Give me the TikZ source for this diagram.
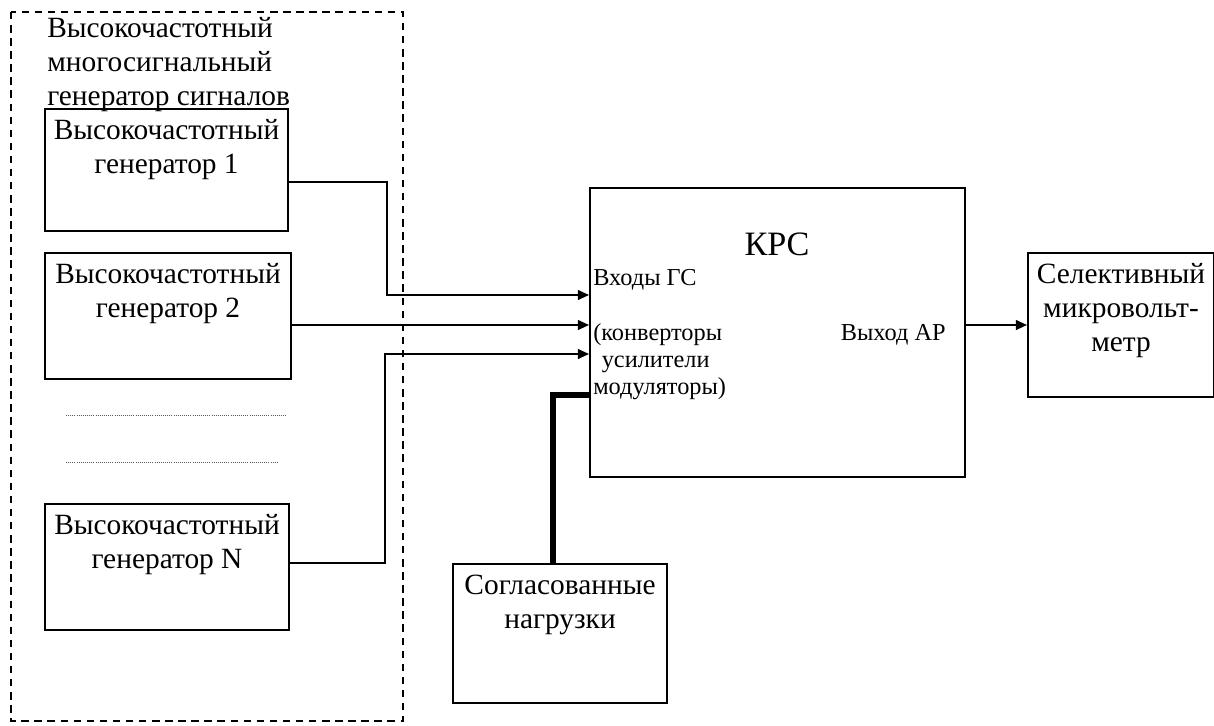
\documentclass[tikz,border=0pt]{standalone}
\usepackage{fontspec}
\setmainfont{Liberation Serif}
\usetikzlibrary{arrows.meta}
\definecolor{dotgray}{rgb}{0.35,0.35,0.35}

\tikzset{
  txt/.style={font=\fontsize{20.9}{24.2}\selectfont},
  small/.style={font=\fontsize{17.3}{19.4}\selectfont},
  big/.style={font=\fontsize{24.3}{27}\selectfont},
  block/.style={draw, line width=1.4pt, inner sep=0pt, anchor=north west},
  inside/.style={txt, align=center, inner sep=0pt, anchor=north, yshift=-0.27cm},
  wire/.style={line width=1.4pt},
  arrow/.style={wire, -{Triangle[length=8pt,width=7pt]}},
  heavy/.style={line width=3.8pt},
  frame/.style={line width=0.85pt, dash pattern=on 5.3pt off 4pt},
  dots/.style={dotgray, line width=0.6pt, dash pattern=on 0.6pt off 0.9pt}
}

\begin{document}
\begin{tikzpicture}[x=0.025cm, y=-0.025cm]

  \useasboundingbox (0,0) rectangle (1214,725);

  % generator group
  \draw[frame] (11,12) rectangle (403,721);
  \node[txt, align=left, inner sep=0pt, anchor=north west] (title) at (47,17)
    {Высокочастотный\\многосигнальный\\генератор сигналов};

  \node[block, minimum width=6.075cm, minimum height=3.05cm,
    label={[inside]north:Высокочастотный\\генератор 1}] (g1) at (44,108) {};
  \node[block, minimum width=6.15cm, minimum height=3.15cm,
    label={[inside]north:Высокочастотный\\генератор 2}] (g2) at (44,252) {};
  \node[block, minimum width=6.1cm, minimum height=3.15cm,
    label={[inside]north:Высокочастотный\\генератор N}] (gN) at (44,503) {};

  \draw[dots] (66,415) -- (287,415);
  \draw[dots] (66,462) -- (279,462);

  % right half
  \node[block, minimum width=9.375cm, minimum height=7.225cm] (krs) at (589,187) {};
  \node[big, inner sep=0pt, anchor=base] (krsname) at (777,255) {КРС};
  \node[small, inner sep=0pt, anchor=base west] (inputs) at (593,285) {Входы ГС};
  \node[small, align=left, inner sep=0pt, anchor=north west] (parts) at (593,323)
    {(конверторы\\\hspace{0.35em}усилители\\модуляторы)};
  \node[small, inner sep=0pt, anchor=base east] (output) at (946,340) {Выход АР};

  \node[block, minimum width=5.35cm, minimum height=3.475cm,
    label={[inside, yshift=-0.02cm]north:Согласованные\\нагрузки}] (load) at (452,563) {};
  \node[block, minimum width=4.65cm, minimum height=3.6cm,
    label={[inside]north:Селективный\\микровольт-\\метр}] (mv) at (1027,252) {};

  \coordinate (k1) at (387,182);
  \coordinate (k2) at (387,295);
  \coordinate (k3) at (300,325);
  \coordinate (k4) at (385,563);
  \coordinate (k5) at (385,354);
  \coordinate (k6) at (553,395);

  \draw[arrow] (k1 -| g1.east) -- (k1) -- (k2) -- (k2 -| krs.west);
  \draw[arrow] (k3 -| g2.east) -- (k3 -| krs.west);
  \draw[arrow] (k4 -| gN.east) -- (k4) -- (k5) -- (k5 -| krs.west);
  \draw[heavy] (k6 -| krs.west) -- (k6) -- (k6 |- load.north);
  \draw[arrow] (krs.east |- mv.west) -- (mv.west);

\end{tikzpicture}
\end{document}
